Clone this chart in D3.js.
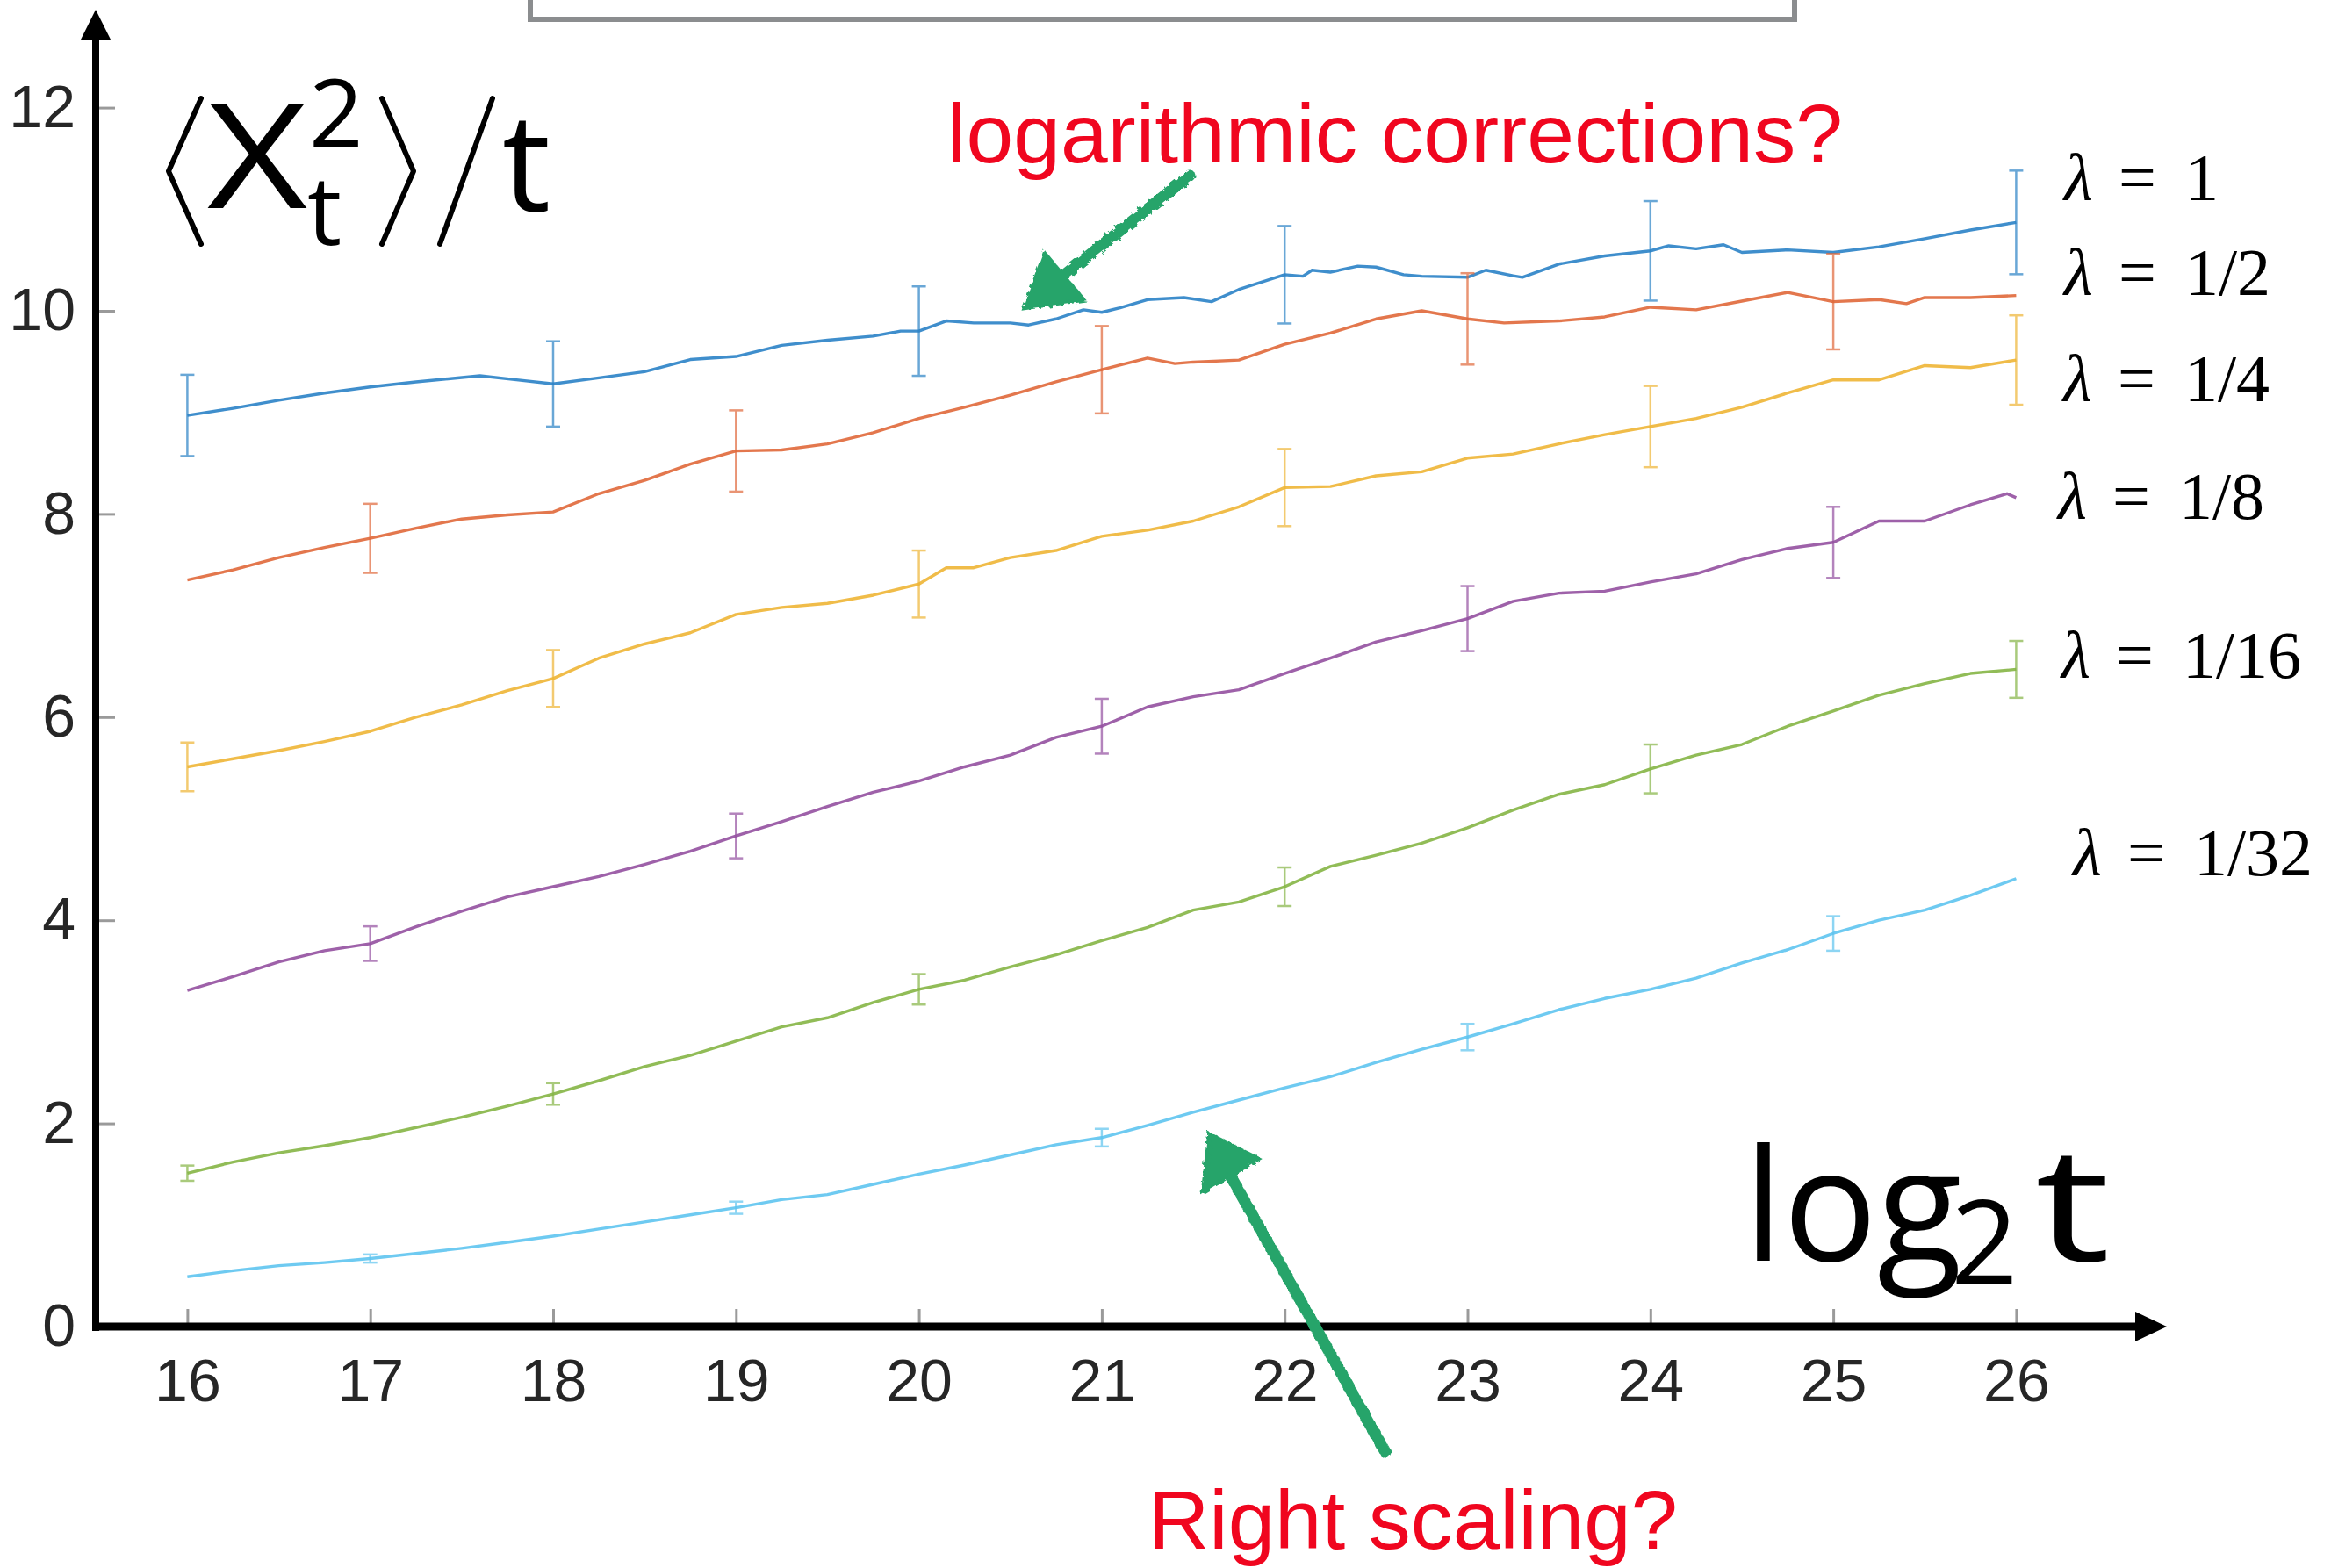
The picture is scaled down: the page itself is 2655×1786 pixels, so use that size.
<!DOCTYPE html>
<html>
<head>
<meta charset="utf-8">
<script src="https://cdn.jsdelivr.net/npm/d3@7"></script>
<style>
  html, body { margin: 0; padding: 0; background: #fff; }
  svg { display: block; }
</style>
</head>
<body>
<div id="chart"></div>
<script>
// x = log2 t, values = <X_t^2>/t
var xTicks = [16, 17, 18, 19, 20, 21, 22, 23, 24, 25, 26];
var yTicks = [0, 2, 4, 6, 8, 10, 12];
var lambdaLabels = ['1', '1/2', '1/4', '1/8', '1/16', '1/32'];

var lam1 = [[16,8.97],[16.25,9.04],[16.5,9.12],[16.75,9.19],[17,9.25],[17.25,9.30],[17.6,9.36],[17.8,9.32],[18,9.28],[18.25,9.34],[18.5,9.40],[18.75,9.52],[19,9.55],[19.25,9.66],[19.5,9.71],[19.75,9.75],[19.9,9.80],[20,9.80],[20.15,9.90],[20.3,9.88],[20.5,9.88],[20.6,9.86],[20.75,9.92],[20.9,10.01],[21,9.985],[21.1,10.03],[21.25,10.11],[21.45,10.13],[21.6,10.09],[21.75,10.21],[22,10.355],[22.1,10.34],[22.15,10.40],[22.25,10.38],[22.4,10.44],[22.5,10.43],[22.65,10.355],[22.75,10.34],[23,10.33],[23.1,10.40],[23.25,10.345],[23.3,10.33],[23.5,10.46],[23.75,10.54],[24,10.59],[24.1,10.64],[24.25,10.61],[24.4,10.65],[24.5,10.575],[24.75,10.60],[25,10.575],[25.25,10.63],[25.5,10.71],[25.75,10.795],[26,10.87]];
var lam2 = [[16,7.35],[16.25,7.45],[16.5,7.57],[16.75,7.67],[17,7.76],[17.25,7.86],[17.5,7.95],[17.75,7.99],[18,8.02],[18.25,8.20],[18.5,8.33],[18.75,8.49],[19,8.62],[19.25,8.63],[19.5,8.69],[19.75,8.80],[20,8.94],[20.25,9.05],[20.5,9.17],[20.75,9.30],[21,9.42],[21.25,9.535],[21.4,9.48],[21.5,9.495],[21.75,9.515],[22,9.67],[22.25,9.78],[22.5,9.92],[22.75,10.0],[23,9.92],[23.2,9.88],[23.5,9.90],[23.75,9.94],[24,10.035],[24.25,10.01],[24.5,10.095],[24.75,10.18],[25,10.09],[25.25,10.11],[25.4,10.07],[25.5,10.13],[25.75,10.13],[26,10.15]];
var lam4 = [[16,5.51],[16.25,5.59],[16.5,5.67],[16.75,5.76],[17,5.86],[17.25,6.0],[17.5,6.12],[17.75,6.26],[18,6.38],[18.25,6.58],[18.5,6.72],[18.75,6.83],[19,7.01],[19.25,7.08],[19.5,7.12],[19.75,7.20],[20,7.31],[20.15,7.47],[20.3,7.47],[20.5,7.57],[20.75,7.64],[21,7.78],[21.25,7.84],[21.5,7.93],[21.75,8.07],[22,8.26],[22.25,8.27],[22.5,8.375],[22.75,8.415],[23,8.55],[23.25,8.59],[23.5,8.69],[23.75,8.78],[24,8.86],[24.25,8.94],[24.5,9.05],[24.75,9.19],[25,9.32],[25.25,9.32],[25.5,9.46],[25.75,9.44],[26,9.515]];
var lam8 = [[16,3.31],[16.25,3.445],[16.5,3.59],[16.75,3.70],[17,3.77],[17.25,3.935],[17.5,4.09],[17.75,4.23],[18,4.33],[18.25,4.43],[18.5,4.55],[18.75,4.68],[19,4.83],[19.25,4.97],[19.5,5.12],[19.75,5.26],[20,5.37],[20.25,5.51],[20.5,5.625],[20.75,5.80],[21,5.91],[21.25,6.10],[21.5,6.20],[21.75,6.27],[22,6.43],[22.25,6.58],[22.5,6.74],[22.75,6.85],[23,6.97],[23.25,7.14],[23.5,7.22],[23.75,7.24],[24,7.33],[24.25,7.41],[24.5,7.55],[24.75,7.66],[25,7.72],[25.25,7.93],[25.5,7.93],[25.75,8.09],[25.95,8.20],[26,8.16]];
var lam16 = [[16,1.51],[16.25,1.62],[16.5,1.71],[16.75,1.78],[17,1.86],[17.25,1.96],[17.5,2.06],[17.75,2.17],[18,2.29],[18.25,2.42],[18.5,2.56],[18.75,2.67],[19,2.81],[19.25,2.95],[19.5,3.04],[19.75,3.19],[20,3.32],[20.25,3.41],[20.5,3.54],[20.75,3.66],[21,3.80],[21.25,3.93],[21.5,4.10],[21.75,4.18],[22,4.33],[22.25,4.53],[22.5,4.64],[22.75,4.76],[23,4.91],[23.25,5.085],[23.5,5.24],[23.75,5.335],[24,5.49],[24.25,5.625],[24.5,5.73],[24.75,5.91],[25,6.06],[25.25,6.215],[25.5,6.33],[25.75,6.43],[26,6.47]];
var lam32 = [[16,0.49],[16.25,0.55],[16.5,0.60],[16.75,0.63],[17,0.67],[17.25,0.72],[17.5,0.77],[17.75,0.83],[18,0.89],[18.25,0.96],[18.5,1.03],[18.75,1.10],[19,1.17],[19.25,1.25],[19.5,1.30],[19.75,1.40],[20,1.50],[20.25,1.59],[20.5,1.69],[20.75,1.79],[21,1.86],[21.25,1.98],[21.5,2.11],[21.75,2.23],[22,2.35],[22.25,2.46],[22.5,2.60],[22.75,2.73],[23,2.85],[23.25,2.98],[23.5,3.12],[23.75,3.23],[24,3.32],[24.25,3.43],[24.5,3.58],[24.75,3.71],[25,3.87],[25.25,4.00],[25.5,4.10],[25.75,4.245],[26,4.41]];

// error bars: where they sit and their half heights
var errEven = [16, 18, 20, 22, 24, 26];
var errOdd = [17, 19, 21, 23, 25];
var errHalf1 = [0.40, 0.42, 0.44, 0.48, 0.49, 0.51];
var errHalf2 = [0.34, 0.40, 0.43, 0.45, 0.47];
var errHalf4 = [0.24, 0.28, 0.33, 0.38, 0.40, 0.44];
var errHalf8 = [0.17, 0.22, 0.27, 0.32, 0.35];
var errHalf16 = [0.075, 0.106, 0.15, 0.19, 0.24, 0.28];
var errHalf32 = [0.04, 0.06, 0.087, 0.13, 0.17];

var colors = ['#2a82c6', '#e0683a', '#eeb535', '#9450a0', '#85b545', '#5ec4ef'];

var series = [
	{data: lam1, errX: errEven, errH: errHalf1},
	{data: lam2, errX: errOdd, errH: errHalf2},
	{data: lam4, errX: errEven, errH: errHalf4},
	{data: lam8, errX: errOdd, errH: errHalf8},
	{data: lam16, errX: errEven, errH: errHalf16},
	{data: lam32, errX: errOdd, errH: errHalf32}
];

// label layout (left x of lambda, baseline)
var labelLeft = [2351, 2351, 2350, 2344, 2348, 2361];
var labelBase = [228, 336, 457, 591, 772, 997];

var width = 2655;
var height = 1786;
var axisX = 109;
var axisY = 1511;

var x = d3.scaleLinear().domain([16, 26]).range([213.4, 2296.4]);
var y = d3.scaleLinear().domain([0, 12]).range([axisY, 122.6]);

var svg = d3.select('#chart').append('svg').attr('width', width).attr('height', height);
svg.append('rect').attr('width', width).attr('height', height).style('fill', '#fff');

var defs = svg.append('defs');
var rough = defs.append('filter').attr('id', 'rough').attr('x', '-10%').attr('y', '-10%').attr('width', '120%').attr('height', '120%');
rough.append('feTurbulence').attr('type', 'fractalNoise').attr('baseFrequency', 0.18).attr('numOctaves', 2).attr('result', 'noise');
rough.append('feDisplacementMap').attr('in', 'SourceGraphic').attr('in2', 'noise').attr('scale', 6);

// gray box at the top edge
svg.append('rect').attr('x', 604).attr('y', -30).attr('width', 1440).attr('height', 52)
	.style('fill', 'none').style('stroke', '#8b8d8f').style('stroke-width', 6);

// tick axes
var yAxis = svg.append('g').attr('transform', 'translate(' + axisX + ',0)')
	.call(d3.axisLeft(y).tickValues(yTicks).tickSize(-22).tickPadding(23));
var xAxis = svg.append('g').attr('transform', 'translate(0,' + axisY + ')')
	.call(d3.axisBottom(x).tickValues(xTicks).tickSize(-20).tickPadding(37));
[yAxis, xAxis].forEach(function(ax){
	ax.select('.domain').remove();
	ax.selectAll('.tick line').style('stroke', '#9a9a9a').style('stroke-width', 3);
	ax.selectAll('.tick text').style('font-family', '"Liberation Sans", Arial, sans-serif')
		.style('font-size', '68px').style('fill', '#262626');
});

// curves
var line = d3.line().x(function(d){ return x(d[0]); }).y(function(d){ return y(d[1]); });
series.forEach(function(s, i){
	svg.append('path').datum(s.data).attr('d', line)
		.style('fill', 'none').style('stroke', colors[i]).style('stroke-width', 3.4)
		.style('stroke-linejoin', 'round').style('opacity', 0.9);

	var g = svg.append('g').style('stroke', colors[i]).style('stroke-width', 2.5).style('opacity', 0.7);
	s.errX.forEach(function(ex, k){
		var c = s.data.find(function(d){ return d[0] === ex; })[1];
		var h = s.errH[k];
		var cx = x(ex);
		g.append('line').attr('x1', cx).attr('x2', cx).attr('y1', y(c - h)).attr('y2', y(c + h));
		g.append('line').attr('x1', cx - 8).attr('x2', cx + 8).attr('y1', y(c - h)).attr('y2', y(c - h));
		g.append('line').attr('x1', cx - 8).attr('x2', cx + 8).attr('y1', y(c + h)).attr('y2', y(c + h));
	});
});

// thick axes with arrow heads
svg.append('line').attr('x1', axisX).attr('x2', axisX).attr('y1', axisY + 5).attr('y2', 44)
	.style('stroke', '#000').style('stroke-width', 8);
svg.append('path').attr('d', 'M' + axisX + ',11L' + (axisX - 17) + ',45L' + (axisX + 17) + ',45Z').style('fill', '#000');
svg.append('line').attr('x1', axisX - 4).attr('x2', 2434).attr('y1', axisY).attr('y2', axisY)
	.style('stroke', '#000').style('stroke-width', 9);
svg.append('path').attr('d', 'M2468,' + axisY + 'L2432,' + (axisY - 17) + 'L2432,' + (axisY + 17) + 'Z').style('fill', '#000');

// lambda labels
lambdaLabels.forEach(function(lab, i){
	var t = svg.append('text').attr('y', labelBase[i])
		.style('font-family', '"Liberation Serif", "Times New Roman", serif').style('font-size', '76px').style('fill', '#000');
	t.append('tspan').attr('x', labelLeft[i]).style('font-style', 'italic').text('λ');
	t.append('tspan').attr('x', labelLeft[i] + 62).text('=');
	t.append('tspan').attr('x', labelLeft[i] + 138).text(lab);
});

// y label  <X_t^2>/t
var big = svg.append('g').style('fill', '#000');
var delim = svg.append('g').style('fill', 'none').style('stroke', '#000').style('stroke-width', 6).style('stroke-linecap', 'round').style('stroke-linejoin', 'round');
delim.append('path').attr('d', 'M229,112L192,195L229,278');
delim.append('path').attr('d', 'M435,112L471,195L435,278');
delim.append('path').attr('d', 'M561,112L501,278');
var yl = big.append('text').style('font-family', '"Open Sans", sans-serif');
yl.append('tspan').attr('x', 236).attr('y', 237).style('font-size', '165px').attr('textLength', 114).attr('lengthAdjust', 'spacingAndGlyphs').text('X');
yl.append('tspan').attr('x', 350).attr('y', 279).style('font-size', '110px').text('t');
yl.append('tspan').attr('x', 352).attr('y', 168).style('font-size', '108px').text('2');
yl.append('tspan').attr('x', 572).attr('y', 240).style('font-size', '155px').text('t');

// x label  log2 t
var xl = big.append('text').style('font-family', '"Open Sans", sans-serif');
xl.append('tspan').attr('x', 1986).attr('y', 1436).style('font-size', '178px').text('log');
xl.append('tspan').attr('x', 2222).attr('y', 1463).style('font-size', '134px').text('2');
big.append('text').attr('x', 2318).attr('y', 1436).attr('textLength', 86).attr('lengthAdjust', 'spacingAndGlyphs')
	.style('font-family', '"Open Sans", sans-serif').style('font-size', '182px').text('t');

// red notes
svg.append('text').attr('x', 1079).attr('y', 185).attr('textLength', 1020).attr('lengthAdjust', 'spacingAndGlyphs')
	.style('font-family', '"Liberation Sans", Arial, sans-serif').style('font-size', '95px').style('fill', '#f0061f')
	.text('logarithmic corrections?');
svg.append('text').attr('x', 1308).attr('y', 1764).attr('textLength', 603).attr('lengthAdjust', 'spacingAndGlyphs')
	.style('font-family', '"Liberation Sans", Arial, sans-serif').style('font-size', '95px').style('fill', '#f0061f')
	.text('Right scaling?');

// hand drawn green arrows
var green = '#27a46b';
var arrows = svg.append('g').attr('filter', 'url(#rough)');
arrows.append('path').attr('d', 'M1355,200L1206,318')
	.style('stroke', green).style('stroke-width', 13).style('stroke-linecap', 'round').style('fill', 'none');
arrows.append('path').attr('d', 'M1190,290L1168,350L1233,341Z').style('fill', green).style('stroke', green).style('stroke-width', 6);
arrows.append('path').attr('d', 'M1578,1654L1403,1342')
	.style('stroke', green).style('stroke-width', 13).style('stroke-linecap', 'round').style('fill', 'none');
arrows.append('path').attr('d', 'M1378,1293L1432,1320L1371,1356Z').style('fill', green).style('stroke', green).style('stroke-width', 6);
</script>
</body>
</html>
